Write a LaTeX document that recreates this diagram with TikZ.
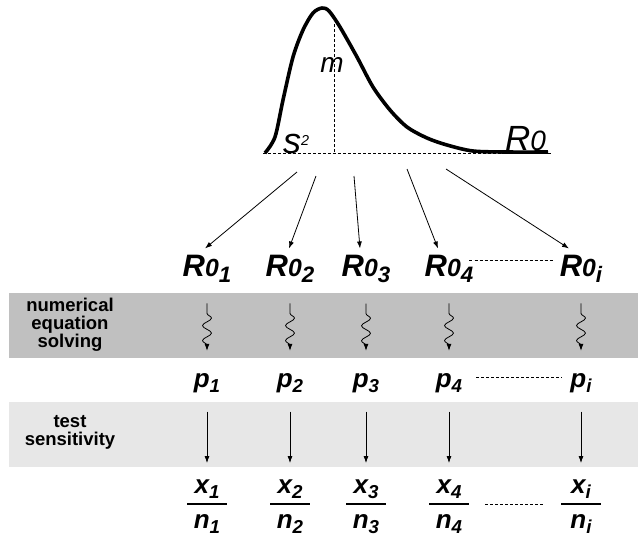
\documentclass[tikz,border=0pt]{standalone}
\usepackage{fontspec}
\setmainfont{Liberation Sans}
\usepackage{xcolor}
\definecolor{bandgray}{RGB}{192,192,192}
\definecolor{bandlight}{RGB}{231,231,231}
\usetikzlibrary{arrows.meta}
\usetikzlibrary{calc}
\usetikzlibrary{decorations.pathmorphing}
\newcommand{\sub}[1]{\raisebox{-0.2em}{\scalebox{0.72}{#1}}}
\newcommand{\Rzero}{R\scalebox{0.8}{0}}

\begin{document}
\begin{tikzpicture}[x=1pt,y=-1pt,
        rlab/.style={inner sep=6pt,font=\fontsize{31}{31}\selectfont\bfseries\itshape},
        plab/.style={inner sep=6pt,font=\fontsize{26}{26}\selectfont\bfseries\itshape},
        bandlab/.style={align=center,inner sep=0pt,font=\fontsize{18.5}{18}\selectfont\bfseries},
        dashline/.style={line width=0.8pt,dash pattern=on 3pt off 2pt},
        arr/.style={-{Latex[length=7pt,width=5pt]},line width=0.8pt},
        wavy/.style={arr,decorate,decoration={snake,amplitude=4.5pt,segment length=15pt,pre length=10pt,post length=5pt}},
        fracline/.style={line width=1.5pt}]
        \useasboundingbox (0,0) rectangle (638,539);
        \fill[bandgray] (9,293) rectangle (638,358);
        \fill[bandlight] (9,402) rectangle (638,467);
        \node[bandlab] (solve) at (70,325) {numerical\\equation\\solving};
        \node[bandlab] (sens) at (70,432) {test\\sensitivity};
        \draw[dashline] (263,153) -- (552,153);
        \draw[dashline] (334,24) -- (334,153);
        \draw[line width=3.6pt,line join=round] plot[smooth] coordinates {(265,153) (275,137) (283,100) (293,57) (303,30) (313,13) (322,8) (329,11) (340,27) (357,57) (373,87) (390,110) (407,127) (427,138) (447,145) (473,151) (507,152) (548,152)};
        \node[anchor=base,inner sep=0pt,font=\fontsize{28}{28}\selectfont\itshape] (m) at (332,72) {m};
        \node[anchor=base west,inner sep=0pt,font=\fontsize{36}{36}\selectfont\itshape] (s) at (283,153) {s\raisebox{8pt}{\scalebox{0.4}{2}}};
        \node[anchor=base west,inner sep=0pt,font=\fontsize{35}{35}\selectfont\itshape] (R0) at (505,150) {\Rzero};
        \foreach \k/\x/\s in {1/207/1,2/290/2,3/366/3,4/449/4,5/581/i}{
          \node[rlab,anchor=base] (R0\k) at (\x,276) {\Rzero\sub{\s}};
          \node[plab,anchor=base] (p\k) at (\x,387) {p\sub{\s}};
          \node[plab,anchor=base] (x\k) at (\x,493) {x\sub{\s}};
          \node[plab,anchor=base] (n\k) at (\x,528) {n\sub{\s}};
          \coordinate (f\k) at (\x,504);
          \draw[fracline] ([xshift=-20pt]f\k) -- ([xshift=20pt]f\k);
          \draw[wavy] ($(R0\k.south)+(0,15)$) -- ($(p\k.north)+(0,-16)$);
          \draw[arr] ($(p\k.south)+(0,13)$) -- ($(x\k.north)+(0,-10)$);
        }
        \foreach \k/\sx/\sy/\dx in {1/297/172/-2,2/316/176/-1,3/354/176/-6,4/407/169/-11,5/446/169/-12}{
          \coordinate (t\k) at (\sx,\sy);
          \draw[arr] (t\k) -- ([xshift=\dx pt]R0\k.north);
        }
        \draw[dashline] ([xshift=-10pt,yshift=8pt]R04.east) -- ([yshift=8pt]R05.west);
        \draw[dashline] ([xshift=8pt,yshift=5pt]p4.east) -- ([xshift=-2pt,yshift=5pt]p5.west);
        \draw[dashline] ([xshift=36pt]f4) -- ([xshift=-38pt]f5);
      \end{tikzpicture}
\end{document}
